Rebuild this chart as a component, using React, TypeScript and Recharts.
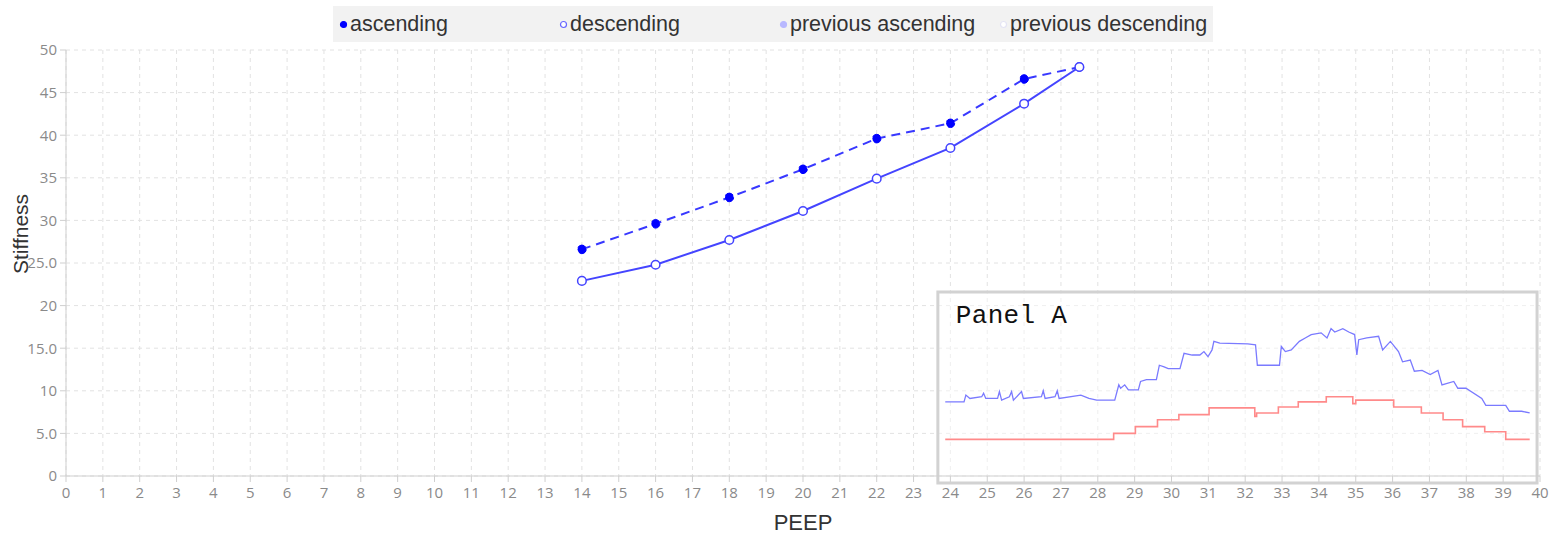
import React from "react";
import {
  LineChart,
  Line,
  XAxis,
  YAxis,
  CartesianGrid,
  ReferenceArea,
} from "recharts";

const peepAscending = [14, 16, 18, 20, 22, 24, 26, 27.5];
const stiffAscending = [26.6, 29.6, 32.7, 36.0, 39.6, 41.4, 46.6, 48.0];
const peepDescending = [14, 16, 18, 20, 22, 24, 26, 27.5];
const stiffDescending = [22.9, 24.8, 27.7, 31.1, 34.9, 38.5, 43.7, 48.0];

// Panel A traces (drawn on the main axes)
const panelBlueX = [
  23.86, 24.37, 24.42, 24.53, 24.85, 24.9, 24.96, 25.28, 25.33, 25.39, 25.6, 25.66, 25.71, 25.93,
  25.98, 26.47, 26.52, 26.57, 26.84, 26.9, 26.95, 27.54, 27.76, 27.97, 28.46, 28.57, 28.62, 28.73,
  28.83, 29.1, 29.16, 29.32, 29.59, 29.67, 29.8, 29.91, 30.23, 30.34, 30.56, 30.77, 30.88, 30.99,
  31.1, 31.15, 31.31, 32.07, 32.28, 32.33, 32.93, 32.98, 33.09, 33.25, 33.47, 33.63, 33.79, 34.06,
  34.22, 34.33, 34.43, 34.65, 34.81, 34.97, 35.03, 35.08, 35.3, 35.62, 35.73, 35.94, 36.16, 36.27,
  36.48, 36.59, 36.8, 37.02, 37.23, 37.34, 37.66, 37.77, 37.99, 38.42, 38.53, 39.07, 39.17, 39.5,
  39.72,
];
const panelBlueY = [
  8.7, 8.7, 9.5, 9.1, 9.3, 9.7, 9.1, 9.1, 9.9, 8.9, 9.3, 9.9, 8.9, 9.9,
  9.1, 9.3, 10.0, 9.1, 9.3, 10.0, 9.1, 9.5, 9.1, 8.9, 8.9, 10.7, 10.3, 10.7,
  10.1, 10.1, 11.1, 11.3, 11.3, 13.0, 12.8, 12.6, 12.6, 14.4, 14.2, 14.2, 14.6, 14.0,
  14.8, 15.8, 15.6, 15.5, 15.4, 13.0, 13.0, 15.2, 14.6, 14.8, 15.8, 16.2, 16.6, 16.8,
  16.2, 17.3, 16.9, 17.3, 16.9, 16.6, 14.2, 16.0, 16.2, 16.4, 14.8, 15.8, 14.6, 13.4,
  13.6, 12.3, 12.4, 11.9, 12.4, 10.7, 11.1, 10.3, 10.3, 9.1, 8.3, 8.3, 7.6, 7.6,
  7.4,
];
const panelRedX = [
  23.86, 28.43, 29.02, 29.62, 30.2, 31.02, 32.26, 32.31, 32.9, 33.44, 34.2, 34.92, 35.0,
  36.03, 36.78, 37.37, 37.9, 38.5, 39.07, 39.72,
];
const panelRedY = [
  4.3, 5.0, 5.8, 6.6, 7.2, 8.0, 7.0, 7.4, 8.1, 8.7, 9.3, 8.5, 8.9,
  8.1, 7.4, 6.6, 5.8, 5.2, 4.3, 4.3,
];

const xTicks = Array.from({ length: 41 }, (_, i) => i);
const yTicks = [0, 5, 10, 15, 20, 25, 30, 35, 40, 45, 50];
const yTickLabels = ["0", "5.0", "10", "15.0", "20", "25.0", "30", "35", "40", "45", "50"];

const legendItems = [
  { name: "ascending", fill: "#0000ff", stroke: "#0000ff" },
  { name: "descending", fill: "#ffffff", stroke: "#6666ff" },
  { name: "previous ascending", fill: "#b8b8ff", stroke: "#b8b8ff" },
  { name: "previous descending", fill: "#ffffff", stroke: "#e4e4f4" },
];

const ascData = peepAscending.map((x, i) => ({ x, y: stiffAscending[i] }));
const descData = peepDescending.map((x, i) => ({ x, y: stiffDescending[i] }));
const blueData = panelBlueX.map((x, i) => ({ x, y: panelBlueY[i] }));
const redData = panelRedX.map((x, i) => ({ x, y: panelRedY[i] }));

const tickStyle = { fill: "#8a8a8a", fontSize: 15, fontFamily: "Open Sans" };

const PanelLabel = (props: any) => {
  const { x, y } = props.viewBox;
  return (
    <text x={x + 18} y={y + 31} fill="#111" fontSize={26} fontFamily="Liberation Mono" letterSpacing={0.3}>
      Panel A
    </text>
  );
};

const App: React.FC = () => {
  return (
    <div
      style={{
        position: "absolute",
        left: 0,
        top: 0,
        width: 1552,
        height: 537,
        overflow: "hidden",
        background: "#fff",
      }}
    >
      <LineChart
        width={1552}
        height={537}
        margin={{ top: 50, right: 12, left: 0, bottom: 27 }}
      >
        <CartesianGrid stroke="#e2e2e2" strokeDasharray="4 4" />
        <XAxis
          type="number"
          dataKey="x"
          domain={[0, 40]}
          ticks={xTicks}
          interval={0}
          height={34}
          tick={tickStyle}
          tickMargin={5}
          stroke="#cfcfcf"
          label={(p: any) => (
            <text
              x={p.viewBox.x + p.viewBox.width / 2}
              y={530}
              textAnchor="middle"
              fill="#333"
              fontSize={22}
              fontFamily="Liberation Sans"
            >
              PEEP
            </text>
          )}
        />
        <YAxis
          type="number"
          dataKey="y"
          domain={[0, 50]}
          ticks={yTicks}
          interval={0}
          width={66}
          tick={tickStyle}
          tickMargin={3}
          stroke="#cfcfcf"
          tickFormatter={(v: number) => yTickLabels[yTicks.indexOf(v)] ?? String(v)}
          label={() => (
            <text
              x={20}
              y={234}
              transform="rotate(-90 20 234)"
              textAnchor="middle"
              dominantBaseline="central"
              fill="#333"
              fontSize={21}
              fontFamily="Liberation Sans"
            >
              Stiffness
            </text>
          )}
        />
        <ReferenceArea
          x1={23.66}
          x2={39.92}
          y1={-0.82}
          y2={21.6}
          ifOverflow="visible"
          fill="#ffffff"
          fillOpacity={0.45}
          stroke="#d2d2d2"
          strokeWidth={3}
          label={<PanelLabel />}
        />
        <Line
          data={blueData}
          dataKey="y"
          type="linear"
          stroke="#7a7aff"
          strokeWidth={1.3}
          dot={false}
          isAnimationActive={false}
        />
        <Line
          data={redData}
          dataKey="y"
          type="stepAfter"
          stroke="#ff8a8a"
          strokeWidth={1.6}
          dot={false}
          isAnimationActive={false}
        />
        <Line
          data={ascData}
          dataKey="y"
          type="linear"
          stroke="#3838ff"
          strokeWidth={2}
          strokeDasharray="9 6"
          dot={{ r: 4.3, fill: "#0000ff", stroke: "#0000ff", strokeWidth: 1 }}
          isAnimationActive={false}
        />
        <Line
          data={descData}
          dataKey="y"
          type="linear"
          stroke="#4444ff"
          strokeWidth={2}
          dot={{ r: 4.3, fill: "#ffffff", stroke: "#4444ff", strokeWidth: 1.5 }}
          isAnimationActive={false}
        />
      </LineChart>
      <div
        style={{
          position: "absolute",
          left: 333,
          top: 6,
          width: 880,
          height: 36,
          background: "#f2f2f2",
          display: "flex",
          alignItems: "center",
          fontFamily: "Liberation Sans",
          fontSize: 21.5,
          color: "#333",
        }}
      >
        {legendItems.map((it) => (
          <div key={it.name} style={{ width: 220, display: "flex", alignItems: "center", paddingLeft: 6 }}>
            <svg width={9} height={9} style={{ marginRight: 2 }}>
              <circle cx={4.5} cy={4.5} r={3} fill={it.fill} stroke={it.stroke} strokeWidth={1.2} />
            </svg>
            <span>{it.name}</span>
          </div>
        ))}
      </div>
    </div>
  );
};

export default App;
